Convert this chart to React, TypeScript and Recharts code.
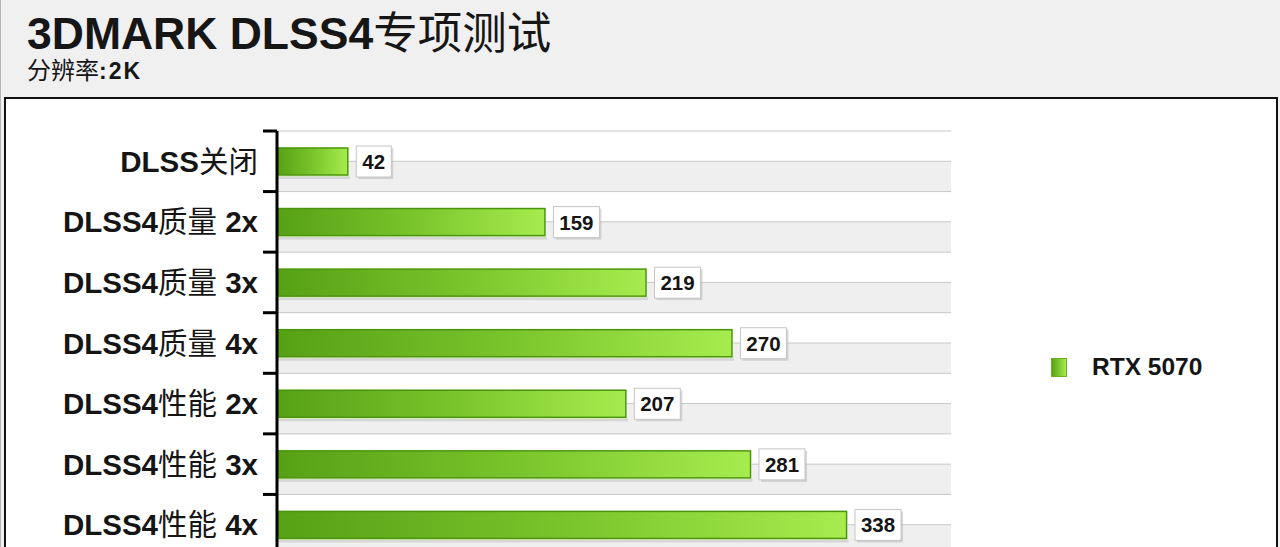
import React from 'react';
import { BarChart, Bar, XAxis, YAxis, CartesianGrid, LabelList, Legend } from 'recharts';

// ---- data ----
const categories = [
  'DLSS关闭',
  'DLSS4质量 2x',
  'DLSS4质量 3x',
  'DLSS4质量 4x',
  'DLSS4性能 2x',
  'DLSS4性能 3x',
  'DLSS4性能 4x',
];
const rtx5070 = [42, 159, 219, 270, 207, 281, 338];
const seriesName = 'RTX 5070';
const xDomain = [0, 400];
const titleLatin = '3DMARK DLSS4';
const titleCjk = '专项测试';
const subtitleCjk = '分辨率';
const subtitleLatin = ':2K';

const data = categories.map((name, i) => ({ name, value: rtx5070[i] }));

// ---- styles ----
const LATIN = '"Liberation Sans", Arial, Helvetica, sans-serif';
const CJK = '"Noto Sans CJK SC", "Noto Sans", sans-serif';

const CHART_W = 1270;
const CHART_H = 480;
const MARGIN = { top: 32, right: 325, bottom: 24, left: 0 };
const Y_AXIS_W = 271;
const TICK_MARGIN = 19;
const PLOT_H = CHART_H - MARGIN.top - MARGIN.bottom;
const BAND = PLOT_H / categories.length;

function splitRuns(s: string) {
  const out: { t: string; cjk: boolean }[] = [];
  const re = /[\u3000-\u9fff\uff00-\uffef]+/g;
  let last = 0;
  let m: RegExpExecArray | null;
  while ((m = re.exec(s))) {
    if (m.index > last) out.push({ t: s.slice(last, m.index), cjk: false });
    out.push({ t: m[0], cjk: true });
    last = m.index + m[0].length;
  }
  if (last < s.length) out.push({ t: s.slice(last), cjk: false });
  return out;
}

const CategoryTick = (props: any) => {
  const { x, y, payload } = props;
  const axisX = x + TICK_MARGIN;
  const top = y - BAND / 2;
  return (
    <g>
      <line x1={axisX - 14} x2={axisX} y1={top} y2={top} stroke="#000" strokeWidth={3} />
      <text x={x} y={y + 10.5} textAnchor="end" fontSize={29.5} fill="#151515" style={{ whiteSpace: 'pre' }}>
        {splitRuns(String(payload.value)).map((r, i) => (
          <tspan key={i} fontFamily={r.cjk ? CJK : LATIN} fontWeight={r.cjk ? 400 : 700}>
            {r.t}
          </tspan>
        ))}
      </text>
    </g>
  );
};

const ValueLabel = (props: any) => {
  const { x, y, width, height, value } = props;
  const s = String(value);
  const w = 13 + s.length * 11;
  const h = 31;
  const bx = x + width + 8.5;
  const cy = y + height / 2;
  return (
    <g>
      <rect x={bx + 2} y={cy - h / 2 + 2} width={w} height={h} fill="#b8b8b8" opacity={0.55} />
      <rect x={bx} y={cy - h / 2} width={w} height={h} fill="#ffffff" stroke="#c6c6c6" strokeWidth={1} />
      <text x={bx + w / 2} y={cy + 7.5} textAnchor="middle" fontFamily={LATIN} fontWeight={700} fontSize={20.5} fill="#151515">
        {s}
      </text>
    </g>
  );
};

const GradBar = (props: any) => {
  const { x, y, width, height } = props;
  if (!width || width <= 0) return null;
  return (
    <g>
      <rect x={x} y={y + height + 1} width={width + 2} height={3} fill="#c4c4c4" opacity={0.6} />
      <rect x={x - 1} y={y - 1} width={width + 2} height={height + 2.5} fill="#d2f2a6" />
      <rect x={x} y={y} width={width} height={height} fill="url(#rtxGrad)" stroke="#4a9212" strokeWidth={1.4} />
    </g>
  );
};

const LegendContent = (props: any) => {
  const { payload } = props;
  return (
    <div style={{ display: 'flex', flexDirection: 'column' }}>
      {(payload || []).map((p: any, i: number) => (
        <div key={i} style={{ display: 'flex', alignItems: 'center', height: 24 }}>
          <span
            style={{
              display: 'inline-block',
              width: 16,
              height: 19,
              background: 'linear-gradient(to right, #58a216, #a6ec4e)',
              border: '1px solid #6cb126',
              boxSizing: 'border-box',
              marginRight: 25,
            }}
          />
          <span style={{ fontFamily: LATIN, fontWeight: 700, fontSize: 24.5, color: '#151515', lineHeight: '24px' }}>
            {p.value}
          </span>
        </div>
      ))}
    </div>
  );
};

export default function App() {
  return (
    <div
      style={{
        position: 'fixed',
        left: 0,
        top: 0,
        width: 1280,
        height: 547,
        overflow: 'hidden',
        background: '#f0f0f0',
      }}
    >
      <div style={{ position: 'absolute', left: 0, top: 0, width: 1, height: 547, background: '#b5b5b5' }} />
      <svg width={1280} height={97} style={{ position: 'absolute', left: 0, top: 0 }}>
        <text x={27} y={49} fontSize={44.5} fill="#161616" style={{ whiteSpace: 'pre' }}>
          <tspan fontFamily={LATIN} fontWeight={700}>{titleLatin}</tspan>
          <tspan fontFamily={CJK} fontWeight={400}>{titleCjk}</tspan>
        </text>
        <text x={27} y={79} fill="#161616" style={{ whiteSpace: 'pre' }}>
          <tspan fontFamily={CJK} fontSize={24} fontWeight={400}>{subtitleCjk}</tspan>
          <tspan fontFamily={LATIN} fontSize={23} fontWeight={700} letterSpacing={2}>{subtitleLatin}</tspan>
        </text>
      </svg>
      <div
        style={{
          position: 'absolute',
          left: 4,
          top: 97,
          width: 1274,
          height: 600,
          boxSizing: 'border-box',
          borderTop: '2px solid #111',
          borderLeft: '2px solid #111',
          borderRight: '2px solid #111',
          background: '#ffffff',
        }}
      >
        <BarChart width={CHART_W} height={CHART_H} data={data} layout="vertical" margin={MARGIN}>
          <defs>
            <linearGradient id="rtxGrad" x1="0" y1="0" x2="1" y2="0">
              <stop offset="0%" stopColor="#56a015" />
              <stop offset="50%" stopColor="#79c42b" />
              <stop offset="100%" stopColor="#a6ec4e" />
            </linearGradient>
          </defs>
          <CartesianGrid
            vertical={false}
            stroke="#c8c8c8"
            horizontalFill={['#ffffff', '#efefef']}
            horizontalCoordinatesGenerator={({ offset }: any) =>
              Array.from({ length: categories.length * 2 + 1 }, (_, i) => offset.top + (i * offset.height) / (categories.length * 2))
            }
          />
          <XAxis type="number" domain={xDomain} hide />
          <YAxis
            type="category"
            dataKey="name"
            width={Y_AXIS_W}
            axisLine={{ stroke: '#000', strokeWidth: 3 }}
            tickLine={false}
            tickSize={0}
            tickMargin={TICK_MARGIN}
            interval={0}
            tick={<CategoryTick />}
          />
          <Legend
            layout="horizontal"
            verticalAlign="middle"
            align="center"
            content={<LegendContent />}
            wrapperStyle={{ left: 1045, top: 256, width: 220 }}
          />
          <Bar dataKey="value" name={seriesName} barSize={27} shape={<GradBar />} isAnimationActive={false}>
            <LabelList dataKey="value" content={<ValueLabel />} />
          </Bar>
        </BarChart>
      </div>
    </div>
  );
}
